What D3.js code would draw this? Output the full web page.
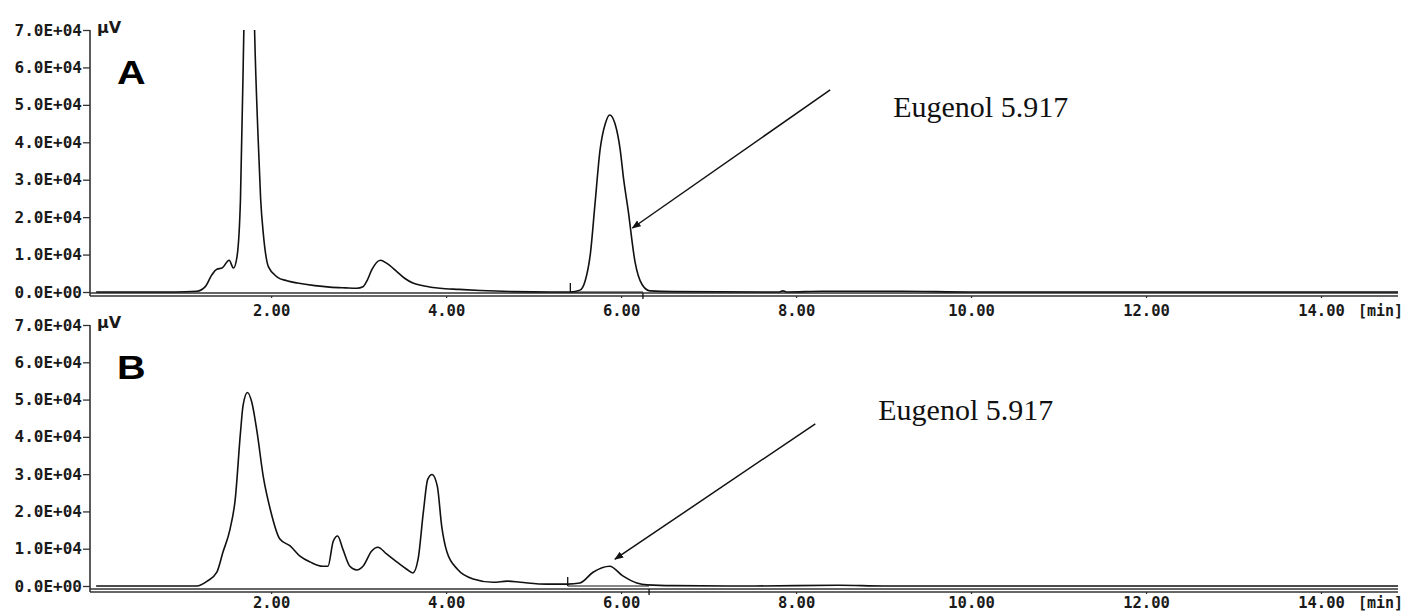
<!DOCTYPE html>
<html>
<head>
<meta charset="utf-8">
<script src="https://cdn.jsdelivr.net/npm/d3@7"></script>
<style>
    body { margin: 0; background: #fff; }
    .axis text { font-family: "DejaVu Sans Mono", monospace; font-weight: bold; fill: #1a1a1a; }
    .y-axis text { font-size: 16px; }
    .x-axis text { font-size: 15.5px; }
    .axis line { stroke: #333; stroke-width: 1.3; }
    .axis path { display: none; }
</style>
</head>
<body>
<div id="chart"></div>
<script>
// retention time (min) and detector signal (µV)
let timeA = [0.0, 0.9, 1.15, 1.25, 1.32, 1.38, 1.44, 1.52, 1.57, 1.61, 1.65, 1.69, 1.755, 1.81, 1.85, 1.88,
    1.91, 1.97, 2.07, 2.18, 2.30, 2.50, 2.67, 2.85, 2.98, 3.05, 3.10, 3.15, 3.25, 3.32, 3.44, 3.53,
    3.62, 3.75, 3.93, 4.15, 4.39, 4.77, 5.20, 5.42, 5.53, 5.59, 5.65, 5.70, 5.76, 5.82, 5.87, 5.93,
    5.99, 6.03, 6.08, 6.16, 6.24, 6.33, 6.60, 7.80, 7.85, 7.90, 8.30, 9.20, 10.0, 12.0, 14.88];
let signalA = [0, 0, 200, 1500, 4500, 6100, 6400, 8500, 6400, 9400, 25000, 72000, 150000, 71000, 42000, 25000,
    15800, 6700, 4000, 3000, 2400, 1700, 1300, 1100, 1000, 1400, 3200, 5900, 8500, 7700, 5400, 3600,
    2400, 1600, 1000, 700, 400, 100, 0, 0, 500, 3000, 10400, 23000, 38000, 45000, 47300, 45000,
    38000, 30000, 22000, 8000, 2000, 300, 100, 0, 300, 0, 200, 200, 0, 0, 0];

let timeB = [0.0, 1.15, 1.27, 1.38, 1.45, 1.53, 1.59, 1.65, 1.68, 1.73, 1.78, 1.84, 1.91, 1.99, 2.10, 2.22,
    2.33, 2.45, 2.59, 2.65, 2.71, 2.76, 2.82, 2.90, 2.98, 3.05, 3.15, 3.22, 3.32, 3.44, 3.55, 3.62,
    3.68, 3.74, 3.79, 3.84, 3.90, 3.95, 4.01, 4.13, 4.31, 4.54, 4.70, 4.85, 5.15, 5.39, 5.53, 5.68,
    5.87, 6.02, 6.18, 6.30, 6.60, 7.50, 8.50, 9.00, 14.88];
let signalB = [0, 0, 1300, 3700, 9100, 15200, 23300, 41200, 48500, 51900, 49200, 41200, 29400, 20600, 12600, 10700,
    8000, 6400, 5300, 5300, 12000, 13400, 9900, 5300, 4300, 5300, 9400, 10400, 8600, 6400, 4500, 3500,
    7200, 19800, 28600, 29900, 26700, 16000, 9100, 4500, 1900, 1000, 1300, 1000, 500, 500, 800, 3700,
    5300, 2700, 800, 300, 100, 0, 200, 0, 0];

let xTicks = [2, 4, 6, 8, 10, 12, 14];
let yTicks = [0, 10000, 20000, 30000, 40000, 50000, 60000, 70000];
let yTickLabels = ["0.0E+00", "1.0E+04", "2.0E+04", "3.0E+04", "4.0E+04", "5.0E+04", "6.0E+04", "7.0E+04"];

// eugenol peak: integration start/end (min) and annotation
let peakStartA = 5.42, peakEndA = 6.25;
let peakStartB = 5.39, peakEndB = 6.32;
let peakLabel = "Eugenol 5.917";
let arrowA = {tail: [8.39, 54000], head: [6.13, 17100], text: [9.11, 46800]};
let arrowB = {tail: [8.22, 43500], head: [5.93, 7200], text: [8.94, 44600]};

let width = 1404, height = 612;

let svg = d3.select("#chart").append("svg")
    .attr("width", width)
    .attr("height", height);

svg.append("defs").append("marker")
    .attr("id", "arrowhead")
    .attr("viewBox", "0 0 10 10")
    .attr("refX", 9).attr("refY", 5)
    .attr("markerWidth", 9).attr("markerHeight", 9)
    .attr("markerUnits", "userSpaceOnUse")
    .attr("orient", "auto")
    .append("path")
    .attr("d", "M0,1 L10,5 L0,9 Z")
    .attr("fill", "#111");

let xScale = d3.scaleLinear().domain([-0.07, 14.88]).range([90, 1398]);

let panels = [
    {name: "A", time: timeA, signal: signalA, zero: 292, top: 30, lineY: 293, pad: 7,
        start: peakStartA, end: peakEndA, arrow: arrowA},
    {name: "B", time: timeB, signal: signalB, zero: 586, top: 325, lineY: 589, pad: 3,
        start: peakStartB, end: peakEndB, arrow: arrowB}
];

panels.forEach(function (p, i) {
    let yScale = d3.scaleLinear().domain([0, 70000]).range([p.zero, p.top]);
    let g = svg.append("g").attr("class", "panel");

    // clip so the overloaded peak is cut at the top of the axis
    svg.select("defs").append("clipPath")
        .attr("id", "clip" + i)
        .append("rect")
        .attr("x", xScale.range()[0]).attr("y", p.top)
        .attr("width", xScale.range()[1] - xScale.range()[0])
        .attr("height", p.lineY - p.top + 4);

    // y axis
    let yAxis = d3.axisLeft(yScale)
        .tickValues(yTicks)
        .tickSize(7)
        .tickPadding(1)
        .tickFormat((d, k) => yTickLabels[k]);
    g.append("g")
        .attr("class", "axis y-axis")
        .attr("transform", `translate(${xScale.range()[0]},0)`)
        .call(yAxis);

    g.append("line")
        .attr("x1", xScale.range()[0]).attr("x2", xScale.range()[0])
        .attr("y1", p.top).attr("y2", p.lineY + 3)
        .attr("stroke", "#333").attr("stroke-width", 1.6);

    // double baseline
    [0, 3].forEach(function (off) {
        g.append("line")
            .attr("x1", xScale.range()[0]).attr("x2", xScale.range()[1])
            .attr("y1", p.lineY + off).attr("y2", p.lineY + off)
            .attr("stroke", "#333").attr("stroke-width", 1.3);
    });

    // x axis
    let xAxis = d3.axisBottom(xScale)
        .tickValues(xTicks)
        .tickSize(2)
        .tickPadding(p.pad)
        .tickFormat(d3.format(".2f"));
    g.append("g")
        .attr("class", "axis x-axis")
        .attr("transform", `translate(0,${p.lineY + 3})`)
        .call(xAxis);

    g.append("text")
        .attr("class", "unit")
        .attr("x", xScale(14) + 37)
        .attr("y", p.lineY + 3 + p.pad + 2 + 11)
        .style("font-family", "DejaVu Sans Mono, monospace")
        .style("font-weight", "bold")
        .style("font-size", "15px")
        .attr("fill", "#1a1a1a")
        .text("[min]");

    g.append("text")
        .attr("x", xScale.range()[0] + 7)
        .attr("y", p.top + 3)
        .style("font-family", "DejaVu Sans, sans-serif")
        .style("font-weight", "bold")
        .style("font-size", "16px")
        .attr("fill", "#1a1a1a")
        .text("µV");

    // panel letter
    g.append("text")
        .attr("transform", `translate(117,${p.top + 54}) scale(1.2,1)`)
        .style("font-family", "Liberation Sans, Arial, sans-serif")
        .style("font-weight", "bold")
        .style("font-size", "33px")
        .attr("fill", "#000")
        .text(p.name);

    // trace
    let line = d3.line()
        .x((d, k) => xScale(p.time[k]))
        .y(d => yScale(d))
        .curve(d3.curveMonotoneX);

    g.append("path")
        .datum(p.signal)
        .attr("clip-path", `url(#clip${i})`)
        .attr("fill", "none")
        .attr("stroke", "#111")
        .attr("stroke-width", 1.6)
        .attr("d", line);

    // integration marks of the eugenol peak
    g.append("line")
        .attr("x1", xScale(p.start)).attr("x2", xScale(p.end))
        .attr("y1", yScale(0)).attr("y2", yScale(0))
        .attr("stroke", "#111").attr("stroke-width", 1.2);
    g.append("line")
        .attr("x1", xScale(p.start)).attr("x2", xScale(p.start))
        .attr("y1", yScale(0) - 9).attr("y2", yScale(0))
        .attr("stroke", "#111").attr("stroke-width", 1.3);
    g.append("line")
        .attr("x1", xScale(p.end)).attr("x2", xScale(p.end))
        .attr("y1", p.lineY).attr("y2", p.lineY + 6)
        .attr("stroke", "#111").attr("stroke-width", 1.3);

    // annotation arrow + label
    g.append("line")
        .attr("x1", xScale(p.arrow.tail[0])).attr("y1", yScale(p.arrow.tail[1]))
        .attr("x2", xScale(p.arrow.head[0])).attr("y2", yScale(p.arrow.head[1]))
        .attr("stroke", "#111").attr("stroke-width", 1.5)
        .attr("marker-end", "url(#arrowhead)");

    g.append("text")
        .attr("x", xScale(p.arrow.text[0]))
        .attr("y", yScale(p.arrow.text[1]))
        .style("font-family", "Liberation Serif, Times New Roman, serif")
        .style("font-size", "30px")
        .attr("fill", "#111")
        .text(peakLabel);
});
</script>
</body>
</html>
